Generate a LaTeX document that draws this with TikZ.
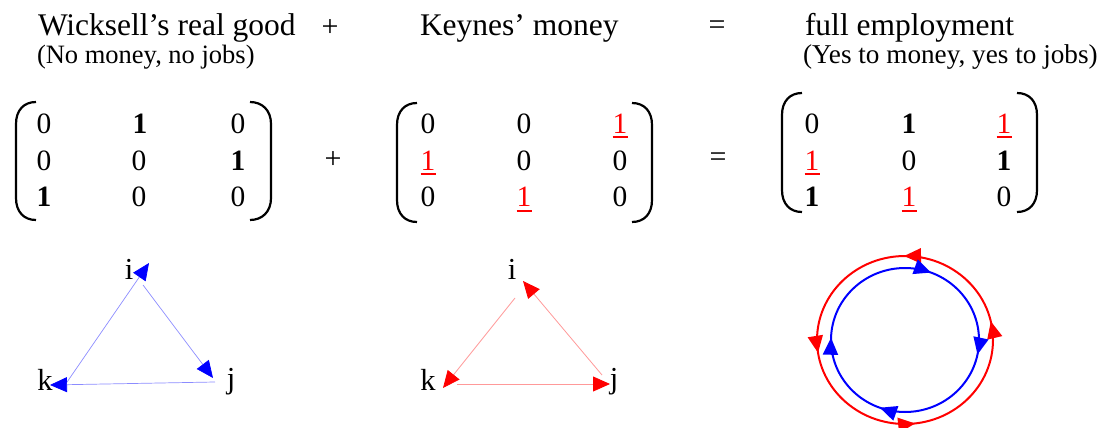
\documentclass[tikz,border=0pt]{standalone}
\usepackage{fontspec}
\setmainfont{Liberation Serif}
\usetikzlibrary{arrows.meta,decorations.markings}
\newcommand\uone{\textcolor{red}{\rlap{\rule[-5pt]{15pt}{2pt}}1}}
\newcommand\bone{\textbf{1}}
\begin{document}
\begin{tikzpicture}[x=1pt,y=-1pt,
  every node/.style={inner sep=0pt,outer sep=0pt},
  title/.style={font=\fontsize{31.5}{36}\selectfont,anchor=base west},
  sub/.style={font=\fontsize{26.5}{30}\selectfont,anchor=base west},
  op/.style={font=\fontsize{30}{34}\selectfont},
  ent/.style={font=\fontsize{29.5}{34}\selectfont,anchor=base},
  lbl/.style={font=\fontsize{30.5}{34}\selectfont,anchor=base},
  paren/.style={line width=2.2pt},
  looptip/.tip={Triangle[length=17pt,width=15pt]},
  bluelink/.style={draw=blue!45,line width=0.7pt,-{Triangle[length=17pt,width=15pt,color=blue]}},
  redlink/.style={draw=red!40,line width=0.8pt,-{Triangle[length=17pt,width=15pt,color=red]}},
  loop/.style={line width=2pt,postaction={decorate}}
]
\useasboundingbox (0,0) rectangle (1101,428);

% titles
\node[title] (t1) at (38,35.7) {Wicksell’s real good};
\node[op] (tplus) at (330,28.5) {+};
\node[title] (t2) at (420,35.7) {Keynes’ money};
\node[op] (teq) at (717,27.5) {=};
\node[title] (t3) at (805,35.7) {full employment};
\node[sub] (s1) at (37,63.5) {(No money, no jobs)};
\node[sub,font=\fontsize{27.2}{30}\selectfont] (s3) at (803,63.5) {(Yes to money, yes to jobs)};

% matrix 1
\draw[paren] (36,102) .. controls (24,102) and (16,110) .. (16,124) -- (16,198) .. controls (16,212) and (24,220) .. (36,220);
\draw[paren] (250,102) .. controls (262,102) and (271,110) .. (271,124) -- (271,198) .. controls (271,212) and (262,220) .. (250,220);
\node[ent] (a11) at (44,133) {0};
\node[ent] (a12) at (140,133) {\bone};
\node[ent] (a13) at (238,133) {0};
\node[ent] (a21) at (44,170) {0};
\node[ent] (a22) at (139,170) {0};
\node[ent] (a23) at (238,170) {\bone};
\node[ent] (a31) at (44,206.5) {\bone};
\node[ent] (a32) at (139,206.5) {0};
\node[ent] (a33) at (238,206.5) {0};

\node[op] (mplus) at (333,160) {+};

% matrix 2
\draw[paren] (417,103) .. controls (405,103) and (397,111) .. (397,125) -- (397,200) .. controls (397,214) and (405,222) .. (417,222);
\draw[paren] (632,103) .. controls (644,103) and (652,111) .. (652,125) -- (652,200) .. controls (652,214) and (644,222) .. (632,222);
\node[ent] (b11) at (428,133) {0};
\node[ent] (b12) at (524,133) {0};
\node[ent] (b13) at (620,133) {\uone};
\node[ent] (b21) at (428,170) {\uone};
\node[ent] (b22) at (524,170) {0};
\node[ent] (b23) at (620,170) {0};
\node[ent] (b31) at (428,206.5) {0};
\node[ent] (b32) at (524,206.5) {\uone};
\node[ent] (b33) at (620,206.5) {0};

\node[op] (meq) at (718,160) {=};

% matrix 3
\draw[paren] (802,93) .. controls (790,93) and (782,101) .. (782,115) -- (782,190) .. controls (782,204) and (790,212) .. (802,212);
\draw[paren] (1017,93) .. controls (1029,93) and (1037,101) .. (1037,115) -- (1037,190) .. controls (1037,204) and (1029,212) .. (1017,212);
\node[ent] (c11) at (812,133) {0};
\node[ent] (c12) at (909,133) {\bone};
\node[ent] (c13) at (1004,133) {\uone};
\node[ent] (c21) at (812,170) {\uone};
\node[ent] (c22) at (909,170) {0};
\node[ent] (c23) at (1004,170) {\bone};
\node[ent] (c31) at (812,206.5) {\bone};
\node[ent] (c32) at (909,206.5) {\uone};
\node[ent] (c33) at (1004,206.5) {0};

% blue triangle (Wicksell)
\node[lbl] (bi) at (129,279) {i};
\node[lbl] (bk) at (45,390) {k};
\node[lbl] (bj) at (231,388) {j};
\coordinate (bks) at (65,385);
\coordinate (bit) at (149,263);
\coordinate (bis) at (143,285);
\coordinate (bjt) at (213,378);
\coordinate (bjs) at (215,382);
\coordinate (bkt) at (50,385);
\draw[bluelink] (bks) -- (bit);
\draw[bluelink] (bis) -- (bjt);
\draw[bluelink] (bjs) -- (bkt);

% red triangle (Keynes)
\node[lbl] (ri) at (512,279) {i};
\node[lbl] (rk) at (428,390) {k};
\node[lbl] (rj) at (614,388) {j};
\coordinate (rjs) at (602,375);
\coordinate (rit) at (523,281);
\coordinate (ris) at (515,298);
\coordinate (rkt) at (443,388);
\coordinate (rks) at (457,384);
\coordinate (rjt) at (610,384);
\draw[redlink] (rjs) -- (rit);
\draw[redlink] (ris) -- (rkt);
\draw[redlink] (rks) -- (rjt);

% circles (full employment)
\coordinate (cc) at (905,340);
\draw[red,loop,decoration={markings,
   mark=at position 0.158 with {\arrow{looptip}},
   mark=at position 0.375 with {\arrow{looptip}},
   mark=at position 0.647 with {\arrow{looptip}},
   mark=at position 0.892 with {\arrow{looptip}}}]
  (cc) ++(45:88 and 84) arc[start angle=45,end angle=-315,x radius=88,y radius=84];
\draw[blue,loop,decoration={markings,
   mark=at position 0.184 with {\arrow{looptip}},
   mark=at position 0.408 with {\arrow{looptip}},
   mark=at position 0.682 with {\arrow{looptip}},
   mark=at position 0.881 with {\arrow{looptip}}}]
  (cc) ++(-135:74 and 72) arc[start angle=-135,end angle=225,x radius=74,y radius=72];
\end{tikzpicture}
\end{document}
